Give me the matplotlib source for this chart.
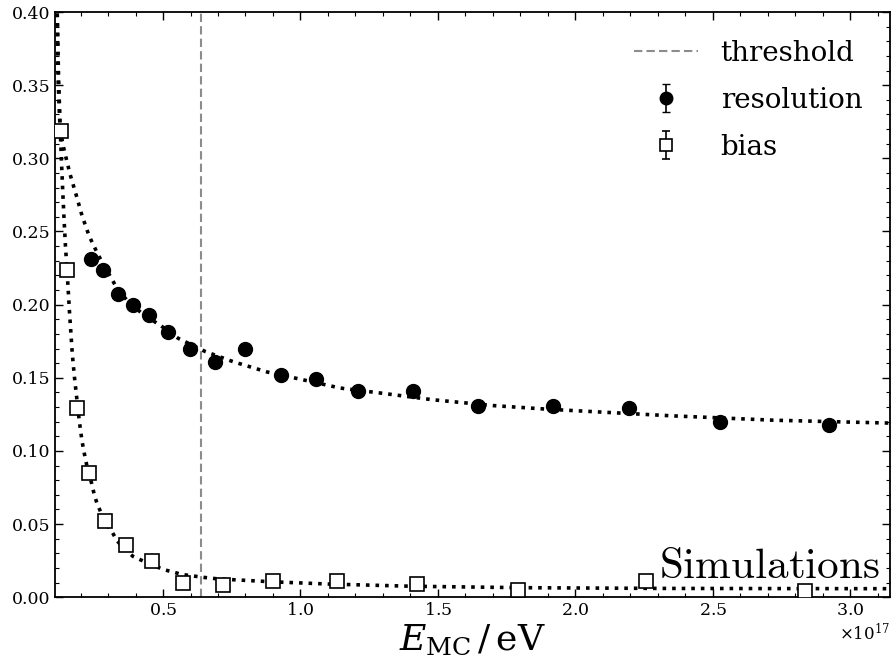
import numpy as np
import matplotlib
matplotlib.use("Agg")
import matplotlib.pyplot as plt
from matplotlib.ticker import MultipleLocator

plt.rcParams['font.family'] = ['DejaVu Serif']
plt.rcParams['mathtext.fontset'] = 'dejavuserif'

# energies given in units of 1e17 eV
escala = 1e17

# resolution points (filled circles)
res_e = np.array([0.238, 0.282, 0.336, 0.391, 0.449, 0.518, 0.598, 0.689, 0.798,
                  0.929, 1.056, 1.209, 1.409, 1.645, 1.918, 2.195, 2.525, 2.922])
res_val = np.array([0.231, 0.224, 0.207, 0.200, 0.193, 0.181, 0.170, 0.161, 0.170,
                    0.152, 0.149, 0.141, 0.141, 0.131, 0.131, 0.129, 0.120, 0.118])
res_err = np.array([0.002] * 18)

# bias points (open squares)
bias_e = np.array([0.129, 0.151, 0.187, 0.231, 0.289, 0.365, 0.460, 0.573, 0.718,
                   0.900, 1.133, 1.424, 1.791, 2.256, 2.835])
bias_val = np.array([0.319, 0.224, 0.129, 0.085, 0.052, 0.036, 0.025, 0.010, 0.008,
                     0.011, 0.011, 0.009, 0.005, 0.011, 0.004])
bias_err = np.array([0.001] * 15)

# fitted curves
fit_res_e = np.array([0.115, 0.118, 0.125, 0.135, 0.145, 0.162, 0.184, 0.205, 0.231,
                      0.264, 0.300, 0.330, 0.373, 0.430, 0.489, 0.555, 0.653, 0.755,
                      0.878, 1.000, 1.144, 1.315, 1.480, 1.700, 1.900, 2.050, 2.350,
                      2.720, 3.150])
fit_res_val = np.array([0.399, 0.355, 0.322, 0.310, 0.302, 0.289, 0.275, 0.261, 0.247,
                        0.234, 0.222, 0.212, 0.202, 0.193, 0.186, 0.177, 0.168, 0.161,
                        0.154, 0.149, 0.143, 0.139, 0.135, 0.131, 0.1285, 0.127, 0.124,
                        0.121, 0.119])

fit_bias_e = np.array([0.115, 0.120, 0.125, 0.130, 0.135, 0.140, 0.145, 0.150, 0.155,
                       0.160, 0.165, 0.170, 0.178, 0.185, 0.195, 0.205, 0.215, 0.225,
                       0.240, 0.250, 0.260, 0.275, 0.290, 0.315, 0.333, 0.360, 0.390,
                       0.430, 0.500, 0.570, 0.650, 0.700, 0.900, 1.100, 1.400, 1.800,
                       2.300, 3.150])
fit_bias_val = np.array([0.399, 0.355, 0.325, 0.300, 0.278, 0.258, 0.240, 0.226, 0.210,
                         0.194, 0.180, 0.166, 0.150, 0.138, 0.121, 0.107, 0.097, 0.088,
                         0.078, 0.070, 0.064, 0.0575, 0.051, 0.0445, 0.0385, 0.033, 0.028,
                         0.0245, 0.019, 0.0155, 0.0135, 0.0125, 0.0105, 0.009, 0.0075,
                         0.0065, 0.006, 0.0058])

umbral = 0.638  # threshold energy

fig = plt.figure(figsize=(8.93, 6.71), dpi=100)
ax = fig.add_axes([0.0616, 0.110, 0.935, 0.872])

ax.axvline(umbral * escala, color='#8c8c8c', linestyle='--', linewidth=1.5,
           dashes=(4, 2), label='threshold', zorder=1)

ax.plot(fit_res_e * escala, fit_res_val, color='black', linestyle=':', linewidth=2.6, zorder=2)
ax.plot(fit_bias_e * escala, fit_bias_val, color='black', linestyle=':', linewidth=2.6, zorder=2)

ax.errorbar(res_e * escala, res_val, yerr=res_err, fmt='o', color='black',
            markersize=10, capsize=3, elinewidth=1.2, label='resolution', zorder=3)
ax.errorbar(bias_e * escala, bias_val, yerr=bias_err, fmt='s', color='black',
            markerfacecolor='white', markeredgecolor='black', markeredgewidth=1.2,
            markersize=10, capsize=3, elinewidth=1.2, label='bias', zorder=3)

ax.set_xlim(0.107 * escala, 3.145 * escala)
ax.set_ylim(0, 0.4)

ax.xaxis.set_major_locator(MultipleLocator(0.5 * escala))
ax.xaxis.set_minor_locator(MultipleLocator(0.1 * escala))
ax.yaxis.set_major_locator(MultipleLocator(0.05))
ax.yaxis.set_minor_locator(MultipleLocator(0.01))
ax.ticklabel_format(axis='x', style='sci', scilimits=(0, 0), useMathText=True)
ax.tick_params(which='both', direction='in', top=True, right=True, labelsize=12.5)
ax.tick_params(which='major', length=6, width=1)
ax.tick_params(which='minor', length=3, width=0.8)
ax.xaxis.get_offset_text().set_fontsize(12)
for sp in ax.spines.values():
    sp.set_linewidth(1.3)

ax.set_xlabel(r'$E_{\mathrm{MC}}\,/\,\mathrm{eV}$', fontsize=26, labelpad=2)

ax.text(0.988, 0.032, r'$\mathrm{Simulations}$', transform=ax.transAxes,
        ha='right', va='baseline', fontsize=31, math_fontfamily='cm')

ax.legend(loc='upper right', frameon=False, fontsize=20, handlelength=2.3,
          markerscale=0.9, labelspacing=0.72, borderaxespad=0.6)

fig.savefig('out.png', dpi=100)
